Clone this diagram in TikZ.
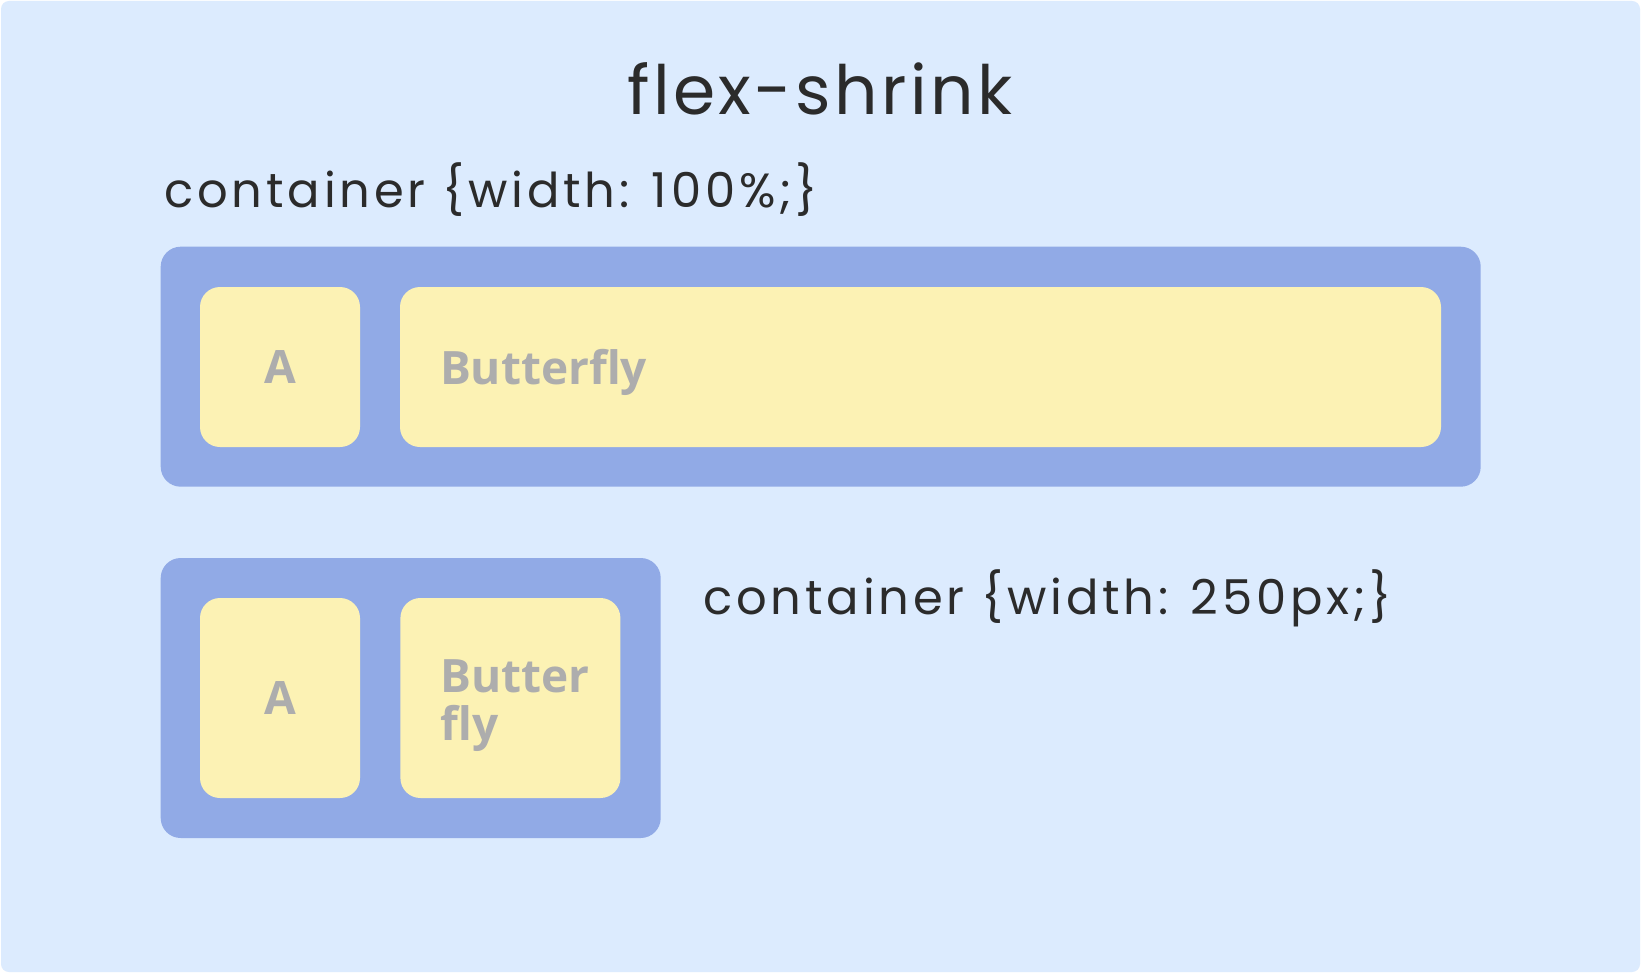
\documentclass[tikz,border=0pt]{standalone}
\usepackage{fontspec}
\setmainfont{Poppins}[LetterSpace=8]
\newfontfamily\titlefont{Poppins}[LetterSpace=5]
\newfontfamily\itemfont{Open Sans}
\usepackage{xcolor}
\usepackage{tikz}
\usetikzlibrary{positioning}

\definecolor{pagebg}{HTML}{DCEBFE}
\definecolor{boxblue}{HTML}{91AAE6}
\definecolor{itemyellow}{HTML}{FCF2B4}
\definecolor{itemtext}{HTML}{ADADAD}
\definecolor{inkdark}{HTML}{2B2B2B}

\tikzset{
  flexbox/.style={fill=boxblue, rounded corners=10pt, inner sep=0},
  flexitem/.style={fill=itemyellow, rounded corners=10pt, inner sep=0,
    text=itemtext, font=\itemfont\bfseries\fontsize{23pt}{24pt}\selectfont},
  handtext/.style={text=inkdark, inner sep=0, font=\fontsize{24pt}{28pt}\selectfont}
}

\begin{document}
\begin{tikzpicture}[x=0.5pt, y=-0.5pt]
  % page
  \fill[white] (0,0) rectangle (1641,973);
  \useasboundingbox (0,0) rectangle (1641,973);
  \fill[pagebg, rounded corners=4pt] (1,1) rectangle (1640,972);

  \node[handtext, font=\titlefont\fontsize{34pt}{38pt}\selectfont] (title) at (820,89) {flex-shrink};

  % wide container
  \node[handtext, anchor=base west] (lblwide) at (164,207) {container \{width: 100\%;\}};
  \node[flexbox, minimum width=660pt, minimum height=120pt] (boxwide) at (820.7,366.7) {};
  \node[flexitem, minimum width=80pt, minimum height=80pt] (wideA) at (280,367) {A};
  \node[flexitem, minimum width=520.5pt, minimum height=80pt, text width=480.5pt,
    text depth=0pt, inner xsep=20pt, align=left] (wideB) at (920.5,367) {Butterfly};

  % narrow container
  \node[flexbox, minimum width=250pt, minimum height=140pt] (boxnarrow) at (410.7,698) {};
  \node[flexitem, minimum width=80pt, minimum height=100pt] (narrowA) at (280,698) {A};
  \node[flexitem, minimum width=110pt, minimum height=100pt, text width=70pt,
    text depth=22pt, inner xsep=20pt, align=left] (narrowB) at (510.4,698) {Butter\\fly};
  \node[handtext, anchor=base west] (lblnarrow) at (703,614) {container \{width: 250px;\}};
\end{tikzpicture}
\end{document}
